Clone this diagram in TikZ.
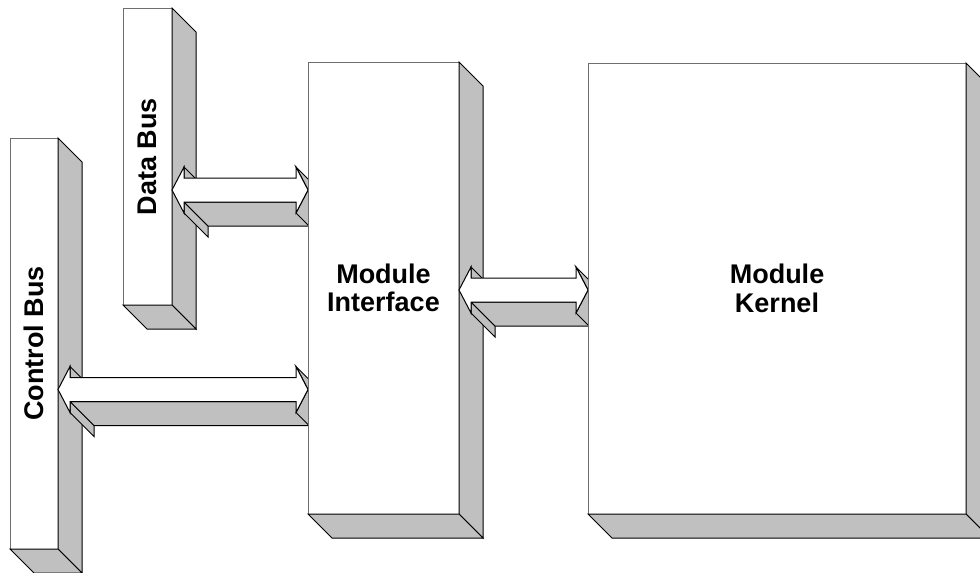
\documentclass[tikz,border=0pt]{standalone}
\usepackage{fontspec}
\setmainfont{Liberation Sans}
\usetikzlibrary{calc}
\pgfdeclarelayer{bg}
\pgfdeclarelayer{busL}
\pgfdeclarelayer{busA}
\pgfdeclarelayer{miL}
\pgfdeclarelayer{miA}
\pgfsetlayers{bg,busL,busA,miL,miA,main}
\definecolor{shade}{HTML}{C0C0C0}
\definecolor{edgegray}{HTML}{6E6E6E}
\tikzset{
  frontface/.style={draw=edgegray, fill=white, line width=1pt, inner sep=0pt, outer sep=0pt, rectangle},
  sideface/.style={draw=black, fill=shade, line width=1pt, line join=miter},
  arrowface/.style={draw=black, fill=white, line width=1pt, line join=miter},
  lbl/.style={font=\fontsize{27}{28.5}\selectfont\bfseries, align=center, inner sep=0pt}
}
\newcommand\threedbox[1]{%
  \draw[sideface] (#1.north east) -- ++(24,24) -- ($(#1.south east)+(24,24)$) -- (#1.south east) -- cycle;
  \draw[sideface] (#1.south west) -- ++(24,24) -- ($(#1.south east)+(24,24)$) -- (#1.south east) -- cycle;
}
\newcommand\threedarrow[2]{%
  \coordinate (q1) at (#1);
  \coordinate (q2) at ($(#1)+(12,-23)$);
  \coordinate (q3) at ($(#1)+(12,-12)$);
  \coordinate (q4) at ($(#2)+(-12,-12)$);
  \coordinate (q5) at ($(#2)+(-12,-23)$);
  \coordinate (q6) at (#2);
  \coordinate (q7) at ($(#2)+(-12,23)$);
  \coordinate (q8) at ($(#2)+(-12,12)$);
  \coordinate (q9) at ($(#1)+(12,12)$);
  \coordinate (q10) at ($(#1)+(12,23)$);
  \draw[sideface] (q2) -- (q3) -- ($(q3)+(24,24)$) -- ($(q2)+(24,24)$) -- cycle;
  \draw[sideface] (q9) -- (q10) -- ($(q10)+(24,24)$) -- ($(q9)+(24,24)$) -- cycle;
  \draw[sideface] (q8) -- (q9) -- ($(q9)+(24,24)$) -- ($(q8)+(24,24)$) -- cycle;
  \draw[sideface] (q5) -- (q6) -- ($(q6)+(24,24)$) -- ($(q5)+(24,24)$) -- cycle;
  \draw[sideface] (q6) -- (q7) -- ($(q7)+(24,24)$) -- ($(q6)+(24,24)$) -- cycle;
  \draw[arrowface] (q1) -- (q2) -- (q3) -- (q4) -- (q5) -- (q6) -- (q7) -- (q8) -- (q9) -- (q10) -- cycle;
}
\begin{document}
\begin{tikzpicture}[x=1pt,y=-1pt]
\useasboundingbox (0,0) rectangle (980,573);
\begin{pgfonlayer}{bg}
  \fill[white] (0,0) rectangle (980,573);
\end{pgfonlayer}
% bus boxes
\begin{pgfonlayer}{busL}
  \node[frontface, minimum width=49pt, minimum height=297pt] (db) at (147.5,156.5) {};
  \threedbox{db}
  \node[lbl, rotate=90] (dbt) at (db.center) {Data Bus};
  \node[frontface, minimum width=48pt, minimum height=411pt] (cb) at (34,343.5) {};
  \threedbox{cb}
  \node[lbl, rotate=90] (cbt) at (cb.center) {Control Bus};
\end{pgfonlayer}
% module interface
\begin{pgfonlayer}{miL}
  \node[frontface, minimum width=151pt, minimum height=452pt] (mi) at (383.5,288) {};
  \threedbox{mi}
  \node[lbl] (mit) at (mi.center) {Module\\Interface};
\end{pgfonlayer}
% module kernel
\node[frontface, minimum width=378pt, minimum height=451pt] (mk) at (777,288.5) {};
\threedbox{mk}
\node[lbl] (mkt) at (mk.center) {Module\\Kernel};
% arrows
\begin{pgfonlayer}{busA}
  \coordinate (daL) at (db.east |- 0,190);
  \coordinate (daR) at (mi.west |- 0,190);
  \threedarrow{daL}{daR}
  \coordinate (caL) at (cb.east |- 0,389.5);
  \coordinate (caR) at (mi.west |- 0,389.5);
  \threedarrow{caL}{caR}
\end{pgfonlayer}
\begin{pgfonlayer}{miA}
  \coordinate (maL) at (mi.east |- 0,290);
  \coordinate (maR) at (mk.west |- 0,290);
  \threedarrow{maL}{maR}
\end{pgfonlayer}
\end{tikzpicture}
\end{document}
